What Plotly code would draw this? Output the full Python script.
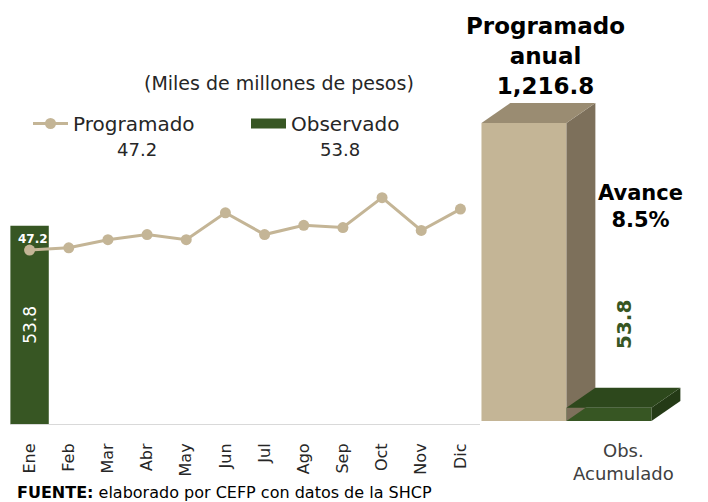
import plotly.graph_objects as go

# ---------------- data ----------------
months = ["Ene", "Feb", "Mar", "Abr", "May", "Jun", "Jul", "Ago", "Sep", "Oct", "Nov", "Dic"]
programado = [47.2, 47.8, 50.0, 51.4, 50.0, 57.3, 51.4, 53.9, 53.3, 61.4, 52.5, 58.3]
observado = [53.8]                       # only January observed
observado_months = ["Ene"]
annual_labels = ["Programado anual", "Obs. Acumulado"]
annual_values = [1216.8, 53.8]
avance_pct = 8.5

# ---------------- styles ----------------
FONT = "DejaVu Sans"
C_PROG = "#C4B596"
C_PROG_SIDE = "#7D705B"
C_PROG_TOP = "#9A8C72"
C_OBS = "#375623"
C_OBS_SIDE = "#243A16"
C_OBS_TOP = "#2D481C"
TXT = "#262626"

W, H = 708, 502
def px(x):
    return x / W
def py(y):
    return 1 - y / H

fig = go.Figure()

# monthly observed bar
fig.add_trace(go.Bar(
    x=observado_months, y=observado, marker=dict(color=C_OBS, line=dict(width=0)),
    text=[f"{v:.1f}" for v in observado], textposition="inside", insidetextanchor="middle",
    textangle=-90, textfont=dict(family=FONT, size=17, color="white"),
    showlegend=False, hoverinfo="skip", xaxis="x", yaxis="y",
))
# monthly programmed line
fig.add_trace(go.Scatter(
    x=months, y=programado, mode="lines+markers", name="Programado",
    line=dict(color=C_PROG, width=3), marker=dict(size=11, color=C_PROG),
    xaxis="x", yaxis="y",
))
# legend entry for observado (wide rectangle look)
fig.add_trace(go.Scatter(
    x=[None], y=[None], mode="lines", name="Observado",
    line=dict(color=C_OBS, width=13), xaxis="x", yaxis="y",
))

# ---------------- 3D style annual bars ----------------
DX, DY = 0.34, 82.0   # depth offset in axis units
BW = 1.0
fronts = [C_PROG, C_OBS]
sides = [C_PROG_SIDE, C_OBS_SIDE]
tops = [C_PROG_TOP, C_OBS_TOP]
for i, v in enumerate(annual_values):
    xl, xr = i - BW / 2, i + BW / 2
    fig.add_trace(go.Scatter(
        x=[xr, xr + DX, xr + DX, xr, xr], y=[0, DY, v + DY, v, 0],
        fill="toself", fillcolor=sides[i], mode="lines", line=dict(width=0, color=sides[i]),
        showlegend=False, hoverinfo="skip", xaxis="x2", yaxis="y2",
    ))
    fig.add_trace(go.Scatter(
        x=[xl, xl + DX, xr + DX, xr, xl], y=[v, v + DY, v + DY, v, v],
        fill="toself", fillcolor=tops[i], mode="lines", line=dict(width=0, color=tops[i]),
        showlegend=False, hoverinfo="skip", xaxis="x2", yaxis="y2",
    ))
fig.add_trace(go.Bar(
    x=[0, 1], y=annual_values, width=BW, marker=dict(color=fronts, line=dict(width=0)),
    showlegend=False, hoverinfo="skip", xaxis="x2", yaxis="y2",
))

# ---------------- annotations ----------------
def note(text, x, y, size, color=TXT, **kw):
    d = dict(text=text, xref="paper", yref="paper", x=px(x), y=py(y), showarrow=False,
             xanchor="center", yanchor="middle", font=dict(family=FONT, size=size, color=color))
    d.update(kw)
    return d

ann = [
    note("(Miles de millones de pesos)", 279, 83, 19),
    note(f"{programado[0]:.1f}", 137, 150, 18),
    note(f"{observado[0]:.1f}", 340, 150, 18),
    dict(text=f"<b>{programado[0]:.1f}</b>", xref="x", yref="y", x=months[0], y=programado[0],
         yshift=11, xshift=3, showarrow=False, xanchor="center", yanchor="middle",
         font=dict(family=FONT, size=12, color="white")),
    note(f"<b>Programado<br>anual<br>{annual_values[0]:,.1f}</b>", 545, 56, 23, "black", align="center"),
    note(f"<b>Avance<br>{avance_pct:.1f}%</b>", 640, 206, 21, "black", align="center"),
    note(f"<b>{annual_values[1]:.1f}</b>", 624, 325, 20, C_OBS, textangle=-90),
    note("Obs.<br>Acumulado", 623, 462, 18, "#404040", align="center"),
    note("<b>FUENTE:</b> elaborado por CEFP con datos de la SHCP", 15, 492, 16, "black", xanchor="left"),
]

fig.update_layout(
    width=W, height=H, margin=dict(l=0, r=0, t=0, b=0),
    paper_bgcolor="white", plot_bgcolor="white",
    font=dict(family=FONT, color=TXT),
    bargap=0.02,
    showlegend=True,
    legend=dict(orientation="h", x=px(28), y=py(104), xanchor="left", yanchor="top",
                font=dict(family=FONT, size=20, color=TXT), bgcolor="rgba(0,0,0,0)",
                entrywidth=168, entrywidthmode="pixels", itemwidth=35),
    xaxis=dict(domain=[px(10), px(480)], type="category", categoryorder="array", categoryarray=months,
               range=[-0.5, 11.5], tickangle=-90, tickfont=dict(family=FONT, size=16, color=TXT),
               showline=True, linecolor="#D9D9D9", linewidth=1, showgrid=False, zeroline=False,
               ticks="outside", ticklen=12, tickcolor="rgba(0,0,0,0)", fixedrange=True),
    yaxis=dict(domain=[py(424), py(60)], range=[0, 98.75], visible=False, fixedrange=True),
    xaxis2=dict(domain=[px(470), px(700)], range=[-0.635, 2.071], visible=False, anchor="y2"),
    yaxis2=dict(domain=[py(421), py(60)], range=[0, 1474], visible=False, anchor="x2"),
    annotations=ann,
)

fig.write_html("out.html", config={"displayModeBar": False},
               post_script="document.body.style.margin='0';")
